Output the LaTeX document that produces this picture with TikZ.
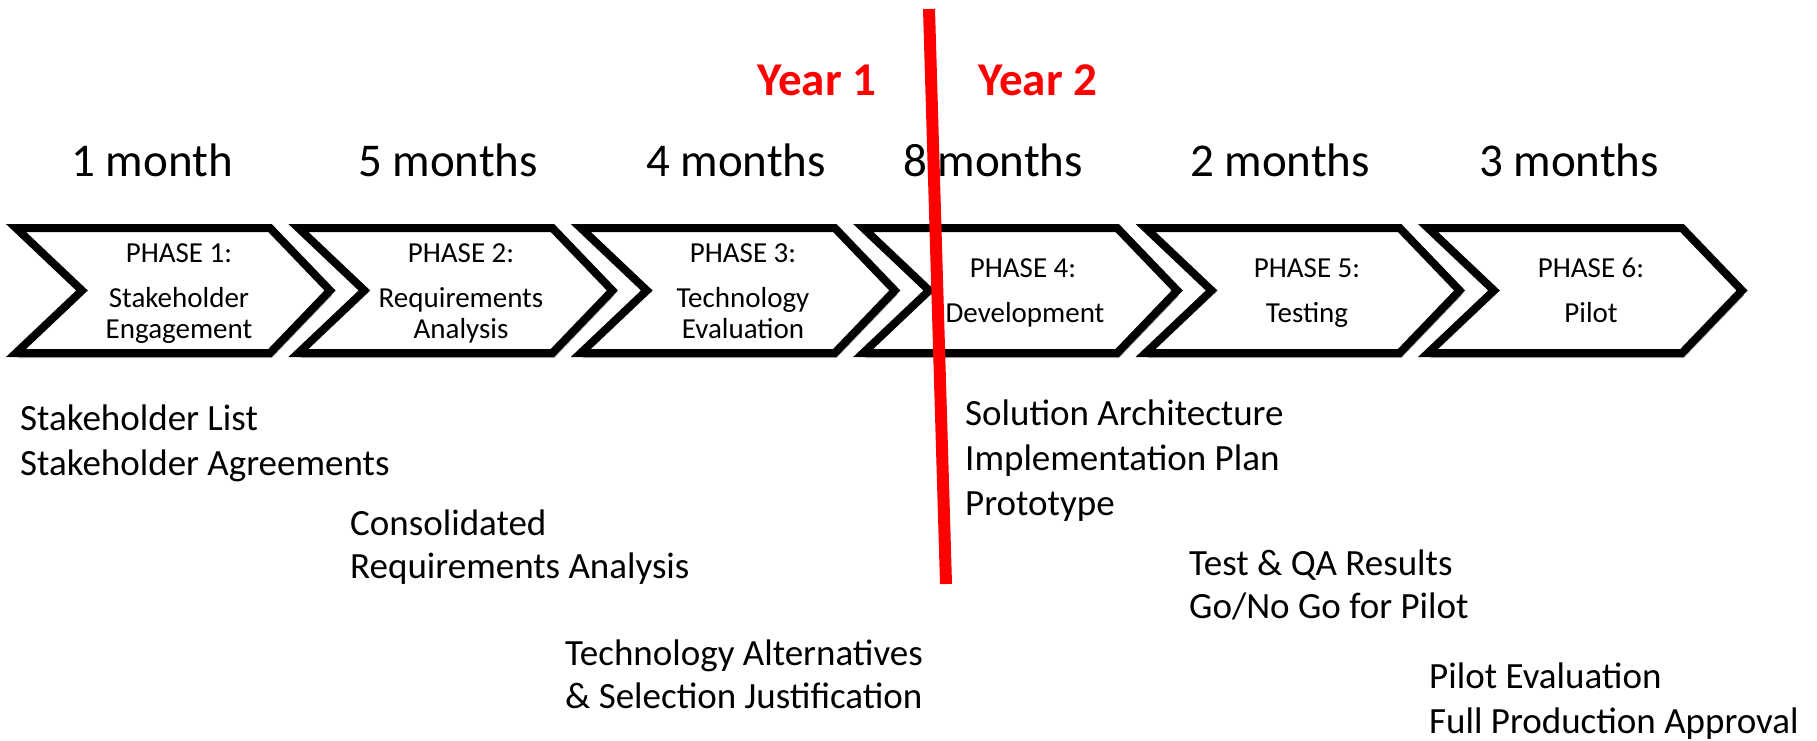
\documentclass[tikz,border=0pt]{standalone}
\usepackage{fontspec}
\setmainfont{Carlito}
\usetikzlibrary{shadows}
\begin{document}
\begin{tikzpicture}[x=1pt,y=-1pt,
  chev/.style={draw=black, line width=8pt, fill=white, line join=miter,
    drop shadow={shadow xshift=2pt, shadow yshift=-5pt, opacity=0.3, fill=black}},
  dur/.style={font=\fontsize{47}{56}\selectfont, anchor=base, inner sep=0pt},
  yr/.style={font=\fontsize{47}{56}\selectfont\bfseries, text=red, anchor=base, inner sep=0pt},
  ph/.style={font=\fontsize{29}{35}\selectfont, anchor=base, inner sep=0pt},
  dl/.style={font=\fontsize{37}{44}\selectfont, anchor=base west, inner sep=0pt},
  yearline/.style={draw=red, line width=12pt},
]
\useasboundingbox (0,0) rectangle (1817,741);
% chevrons
\foreach \i in {0,...,5} {
  \pgfmathsetmacro{\L}{10+282.4*\i}
  \draw[chev] (\L+6,228) -- (\L+260,228) -- (\L+320,290.5) -- (\L+260,353) -- (\L+6,353) -- (\L+72,290.5) -- cycle;
}
% durations
\node[dur] (m1) at (152,176) {1 month};
\node[dur] (m2) at (448,176) {5 months};
\node[dur] (m3) at (736,176) {4 months};
\node[dur] (m4) at (993,176) {8 months};
\node[dur] (m5) at (1280,176) {2 months};
\node[dur] (m6) at (1569,176) {3 months};
% years
\node[yr] (y1) at (817,96) {Year 1};
\node[yr] (y2) at (1038,96) {Year 2};
% phase labels
\node[ph] (p1a) at (179,262) {PHASE 1:};
\node[ph] (p1b) at (179,307) {Stakeholder};
\node[ph] (p1c) at (179,338) {Engagement};
\node[ph] (p2a) at (461,262) {PHASE 2:};
\node[ph] (p2b) at (461,307) {Requirements};
\node[ph] (p2c) at (461,338) {Analysis};
\node[ph] (p3a) at (743,262) {PHASE 3:};
\node[ph] (p3b) at (743,307) {Technology};
\node[ph] (p3c) at (743,338) {Evaluation};
\node[ph] (p4a) at (1023,277) {PHASE 4:};
\node[ph] (p4b) at (1025,322) {Development};
\node[ph] (p5a) at (1307,277) {PHASE 5:};
\node[ph] (p5b) at (1307,322) {Testing};
\node[ph] (p6a) at (1591,277) {PHASE 6:};
\node[ph] (p6b) at (1591,322) {Pilot};
% deliverables
\node[dl] (d1a) at (20,430) {Stakeholder List};
\node[dl] (d1b) at (20,475) {Stakeholder Agreements};
\node[dl] (d2a) at (350,535) {Consolidated};
\node[dl] (d2b) at (350,578) {Requirements Analysis};
\node[dl] (d3a) at (565,665) {Technology Alternatives};
\node[dl] (d3b) at (565,708) {\& Selection Justification};
\node[dl] (d4a) at (965,425) {Solution Architecture};
\node[dl] (d4b) at (965,470) {Implementation Plan};
\node[dl] (d4c) at (965,515) {Prototype};
\node[dl] (d5a) at (1189,575) {Test \& QA Results};
\node[dl] (d5b) at (1189,618) {Go/No Go for Pilot};
\node[dl] (d6a) at (1429,688) {Pilot Evaluation};
\node[dl] (d6b) at (1429,733) {Full Production Approval};
% year divider
\coordinate (rtop) at (929,9);
\coordinate (rbot) at (946,584);
\draw[yearline] (rtop) -- (rbot);
\end{tikzpicture}
\end{document}
